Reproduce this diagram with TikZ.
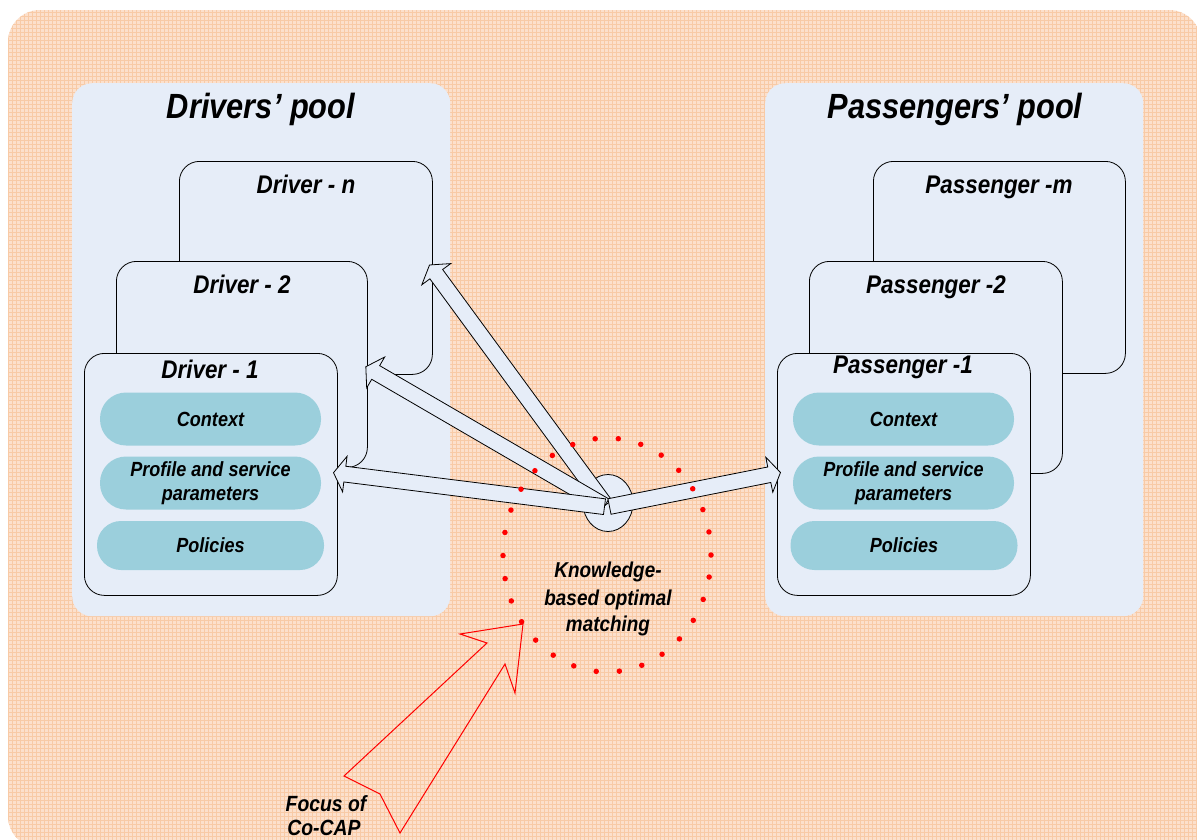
\documentclass[tikz,border=0pt]{standalone}
\usepackage{fontspec}
\setmainfont{Liberation Sans}[FakeStretch=0.88]
\usetikzlibrary{shapes.arrows,shapes.geometric,calc}
\definecolor{peach}{HTML}{FCE0CC}
\definecolor{peachgrid}{HTML}{F8CAA6}
\definecolor{poolblue}{HTML}{E6EDF8}
\definecolor{pillblue}{HTML}{9BCFDC}
% block arrow node #1 from point #2 to point #3
\newcommand\blockarrow[3]{%
  \path let \p1=($(#3)-(#2)$), \n1={atan2(\y1,\x1)}, \n2={veclen(\x1,\y1)} in
    node[barrow, minimum height=\n2, rotate=\n1] (#1) at ($(#2)!0.5!(#3)$) {};}
\begin{document}
\begin{tikzpicture}[x=1pt,y=-1pt,
  pool/.style={fill=poolblue, draw=none, rounded corners=20pt, anchor=north west, inner sep=0pt},
  card/.style={fill=poolblue, draw=black, line width=0.8pt, rounded corners=20pt, anchor=north west, inner sep=0pt},
  pill/.style={fill=pillblue, draw=none, rounded corners=26pt, minimum height=53pt, inner sep=0pt, align=center,
    font=\fontsize{20.5}{23.5}\selectfont\bfseries\itshape},
  title/.style={anchor=base, inner sep=0pt, font=\fontsize{35}{40}\selectfont\bfseries\itshape},
  cardlabel/.style={anchor=base, inner sep=0pt, font=\fontsize{25.5}{30}\selectfont\bfseries\itshape},
  note/.style={anchor=base, inner sep=0pt, font=\fontsize{22}{26}\selectfont\bfseries\itshape},
  barrow/.style={single arrow, draw=black, fill=poolblue, line width=0.8pt, inner xsep=0pt, inner ysep=7.5pt,
    minimum width=0pt, single arrow head extend=10pt, single arrow tip angle=115},
  dots/.style={red, line width=5.5pt, line cap=round, dash pattern=on 0pt off 23.2pt},
]
\useasboundingbox (0,0) rectangle (1197,839);
\fill[white] (0,0) rectangle (1197,839);
% page background with its fine grid
\path[fill=peach] (8,400) [rounded corners=32pt] -- (8,10) -- (1201,10) [sharp corners] -- (1201,848)
  [rounded corners=32pt] -- (8,848) -- cycle;
\begin{scope}
  \clip (8,400) [rounded corners=32pt] -- (8,10) -- (1201,10) [sharp corners] -- (1201,848)
    [rounded corners=32pt] -- (8,848) -- cycle;
  \draw[peachgrid, line width=0.7pt] (8,10) grid[step=4pt] (1201,848);
\end{scope}

% pools
\node[pool, minimum width=378pt, minimum height=533pt] (dpool) at (72,83) {};
\node[pool, minimum width=378pt, minimum height=533pt] (ppool) at (765,83) {};
\node[title] (dtitle) at (261,118) {Drivers’ pool};
\node[title] (ptitle) at (955,118) {Passengers’ pool};

% driver cards
\node[card, minimum width=253pt, minimum height=213pt] (dn) at (179,161) {};
\node[card, minimum width=251pt, minimum height=206pt] (d2) at (116,261) {};
\node[card, minimum width=253pt, minimum height=242pt] (d1) at (84,353) {};
\node[cardlabel] (dnl) at (306,193) {Driver - n};
\node[cardlabel] (d2l) at (242,293) {Driver - 2};
\node[cardlabel] (d1l) at (210,378) {Driver - 1};
\node[pill, minimum width=221pt] (dctx) at (210.5,419) {Context};
\node[pill, minimum width=221pt] (dprof) at (210.5,483) {Profile and service\\parameters};
\node[pill, minimum width=227pt, minimum height=49pt, rounded corners=24pt] (dpol) at (210.5,545.5) {Policies};

% passenger cards
\node[card, minimum width=252pt, minimum height=212pt] (pm) at (873,161) {};
\node[card, minimum width=253pt, minimum height=212pt] (p2) at (809,261) {};
\node[card, minimum width=253pt, minimum height=242pt] (p1) at (777,353) {};
\node[cardlabel] (pml) at (999,193) {Passenger -m};
\node[cardlabel] (p2l) at (936,293) {Passenger -2};
\node[cardlabel] (p1l) at (903,373) {Passenger -1};
\node[pill, minimum width=221pt] (pctx) at (903.5,419) {Context};
\node[pill, minimum width=221pt] (pprof) at (903.5,483) {Profile and service\\parameters};
\node[pill, minimum width=227pt, minimum height=49pt, rounded corners=24pt] (ppol) at (904,545.5) {Policies};

% matching hub and its links
\node[ellipse, draw=black, fill=poolblue, line width=0.8pt, minimum width=50pt, minimum height=57pt] (hub) at (608,503) {};
\coordinate (c) at (607,507);
\coordinate (tn) at (431,267);
\coordinate (t2) at (368,368);
\coordinate (t1) at (336,473);
\coordinate (tp) at (778,473);
\blockarrow{an}{c}{tn}
\blockarrow{a2}{c}{t2}
\blockarrow{a1}{c}{t1}
\blockarrow{ap}{c}{tp}

% matching zone
\draw[dots] (607,555) ellipse [x radius=104pt, y radius=117pt];
\node[note, font=\fontsize{21.5}{26}\selectfont\bfseries\itshape] (k1) at (608,577) {Knowledge-};
\node[note, font=\fontsize{21.5}{26}\selectfont\bfseries\itshape] (k2) at (608,605) {based optimal};
\node[note, font=\fontsize{21.5}{26}\selectfont\bfseries\itshape] (k3) at (608,631) {matching};

% focus arrow
\draw[red, line width=1pt] (523,624) -- (460,634) -- (487,643) -- (344,776) -- (380,794) -- (400,833)
  -- (505,664) -- (515,693) -- cycle;
\node[note] (f1) at (326,811) {Focus of};
\node[note] (f2) at (324,835) {Co-CAP};
\end{tikzpicture}
\end{document}
